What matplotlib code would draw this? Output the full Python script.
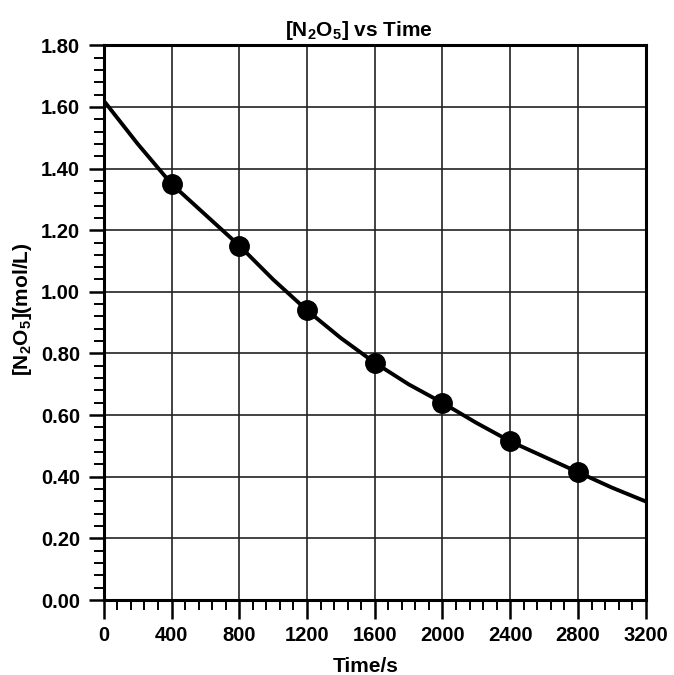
import matplotlib
matplotlib.use('Agg')
import matplotlib.pyplot as plt
from matplotlib.ticker import MultipleLocator, FormatStrFormatter

plt.rcParams['font.family'] = ['Liberation Sans', 'DejaVu Sans']
plt.rcParams['font.weight'] = 'bold'
plt.rcParams['mathtext.fontset'] = 'custom'
plt.rcParams['mathtext.bf'] = 'Liberation Sans:bold'
plt.rcParams['mathtext.rm'] = 'Liberation Sans:bold'
plt.rcParams['mathtext.default'] = 'bf'

# measured points
time_pts = [400, 800, 1200, 1600, 2000, 2400, 2800]
conc_pts = [1.35, 1.15, 0.94, 0.77, 0.64, 0.515, 0.415]

# fitted curve
time_curve = [0, 200, 400, 600, 800, 1000, 1200, 1400, 1600, 1800, 2000,
              2200, 2400, 2600, 2800, 3000, 3200]
conc_curve = [1.62, 1.48, 1.35, 1.25, 1.15, 1.04, 0.94, 0.85, 0.77, 0.70,
              0.64, 0.575, 0.515, 0.465, 0.415, 0.365, 0.32]

fig = plt.figure(figsize=(6.74, 6.75), dpi=100)
ax = fig.add_axes([0.154, 0.111, 0.804, 0.822])

ax.plot(time_curve, conc_curve, color='black', lw=2.8, zorder=3)
ax.plot(time_pts, conc_pts, 'o', color='black', ms=14, zorder=4)

ax.set_xlim(0, 3200)
ax.set_ylim(0, 1.80)
ax.xaxis.set_major_locator(MultipleLocator(400))
ax.xaxis.set_minor_locator(MultipleLocator(80))
ax.yaxis.set_major_locator(MultipleLocator(0.2))
ax.yaxis.set_minor_locator(MultipleLocator(0.04))
ax.yaxis.set_major_formatter(FormatStrFormatter('%.2f'))

ax.grid(which='major', color='#222222', lw=1.2)
ax.tick_params(axis='x', which='major', direction='out', length=14, width=1.8, labelsize=14.5, pad=5)
ax.tick_params(axis='y', which='major', direction='out', length=11, width=1.8, labelsize=14.5, pad=6)
ax.tick_params(which='minor', direction='out', length=7, width=1.4)
for s in ax.spines.values():
    s.set_linewidth(2.2)

ax.set_title(r'[N$_2$O$_5$] vs Time', fontsize=15, fontweight='bold', pad=7, x=0.47)
ax.set_xlabel('Time/s', fontsize=15, fontweight='bold', labelpad=8, x=0.483)
ax.set_ylabel(r'[N$_2$O$_5$](mol/L)', fontsize=15, fontweight='bold', labelpad=5, y=0.525)

fig.savefig('out.png', dpi=100)
